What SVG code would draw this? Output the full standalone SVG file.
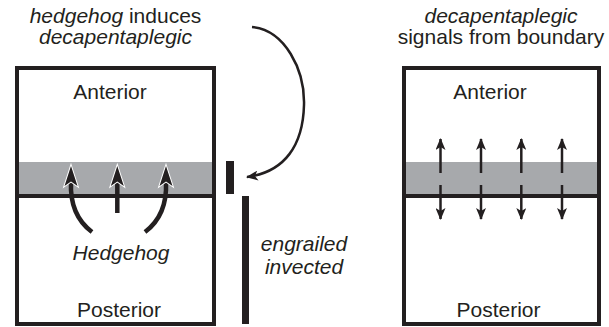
<svg xmlns="http://www.w3.org/2000/svg" width="609" height="327" viewBox="0 0 609 327">
<style>
text{font-family:"Liberation Sans",Arial,sans-serif;font-size:21px;fill:#231f20}
.i{font-style:italic}
.box{fill:#fff;stroke:#231f20;stroke-width:4}
.band{fill:#a7a9ac}
.bline{stroke:#231f20;stroke-width:4}
.thin{fill:none;stroke:#231f20;stroke-width:2.5}
.thick{fill:none;stroke:#231f20;stroke-width:4.5}
.wh{fill:#231f20;stroke:#fff;stroke-width:2;stroke-linejoin:miter;paint-order:stroke}
</style>
<defs>
<marker id="ah" viewBox="0 0 12 10" refX="11" refY="5" markerWidth="12" markerHeight="10" markerUnits="userSpaceOnUse" orient="auto">
<path d="M0,0 L12,5 L0,10 L3,5 Z" fill="#231f20"/>
</marker>
</defs>
<g id="title-left">
<text x="115.5" y="23" text-anchor="middle"><tspan class="i">hedgehog</tspan> induces</text>
<text x="115.5" y="44" text-anchor="middle" class="i">decapentaplegic</text>
</g>
<g id="title-right">
<text x="501" y="23" text-anchor="middle" class="i">decapentaplegic</text>
<text x="501" y="44" text-anchor="middle">signals from boundary</text>
</g>
<g id="left-box">
<rect class="box" x="17" y="68" width="197" height="256"/>
<rect class="band" x="19" y="162" width="193" height="32"/>
<line class="bline" x1="17" y1="196" x2="214" y2="196"/>
<text x="110" y="99" text-anchor="middle">Anterior</text>
<text x="119" y="317" text-anchor="middle">Posterior</text>
<text x="121" y="260" text-anchor="middle" class="i">Hedgehog</text>
</g>
<g id="right-box">
<rect class="box" x="404" y="68" width="195" height="256"/>
<rect class="band" x="406" y="162" width="191" height="32"/>
<line class="bline" x1="404" y1="196" x2="599" y2="196"/>
<text x="490" y="99" text-anchor="middle">Anterior</text>
<text x="498.5" y="317" text-anchor="middle">Posterior</text>
</g>
<g id="dpp-bar">
<rect x="226" y="161" width="8" height="33" fill="#231f20"/>
</g>
<g id="en-bar">
<rect x="242" y="196" width="7" height="128" fill="#231f20"/>
<text x="304" y="251" text-anchor="middle" class="i">engrailed</text>
<text x="304" y="274" text-anchor="middle" class="i">invected</text>
</g>
<g id="connectors">
<path class="thin" d="M252,27 C285,30 305,70 304,105 C303,145 285,172 247,177" marker-end="url(#ah)"/>
<path class="thick" d="M92,232 C76,220 70,204 71,182"/>
<path class="thick" d="M117.3,213 L117.3,182"/>
<path class="thick" d="M145,232 C161,220 167,204 166,182"/>
<path class="wh" d="M71,166 L77.5,186 L71,181.5 L64.5,186 Z"/>
<path class="wh" d="M117.3,166 L123.8,186 L117.3,181.5 L110.8,186 Z"/>
<path class="wh" d="M166,166 L172.5,186 L166,181.5 L159.5,186 Z"/>
<g class="thin">
<path d="M440.5,173 L440.5,139" marker-end="url(#ah)"/>
<path d="M481,173 L481,139" marker-end="url(#ah)"/>
<path d="M521.3,173 L521.3,139" marker-end="url(#ah)"/>
<path d="M562,173 L562,139" marker-end="url(#ah)"/>
<path d="M440.5,185 L440.5,219" marker-end="url(#ah)"/>
<path d="M481,185 L481,219" marker-end="url(#ah)"/>
<path d="M521.3,185 L521.3,219" marker-end="url(#ah)"/>
<path d="M562,185 L562,219" marker-end="url(#ah)"/>
</g>
</g>
</svg>
